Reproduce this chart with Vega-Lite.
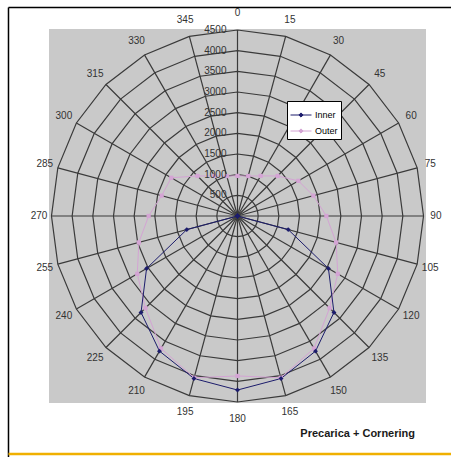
{
  "$schema": "https://vega.github.io/schema/vega-lite/v6.json",
  "width": 377,
  "height": 374,
  "autosize": {"type": "none"},
  "padding": {"left": 49, "top": 29, "right": 25, "bottom": 54},
  "background": "white",
  "config": {
    "view": {"fill": "#c9c9c9", "stroke": null},
    "font": "Liberation Sans"
  },
  "title": {
    "text": "Precarica + Cornering",
    "orient": "bottom",
    "anchor": "end",
    "frame": "group",
    "font": "Liberation Sans",
    "fontSize": 11,
    "fontWeight": "bold",
    "color": "#1a1a1a",
    "offset": -31,
    "dx": -11
  },
  "datasets": {
    "rings": [
      {"r": 500, "a": [0,15,30,45,60,75,90,105,120,135,150,165,180,195,210,225,240,255,270,285,300,315,330,345,360]},
      {"r": 1000, "a": [0,15,30,45,60,75,90,105,120,135,150,165,180,195,210,225,240,255,270,285,300,315,330,345,360]},
      {"r": 1500, "a": [0,15,30,45,60,75,90,105,120,135,150,165,180,195,210,225,240,255,270,285,300,315,330,345,360]},
      {"r": 2000, "a": [0,15,30,45,60,75,90,105,120,135,150,165,180,195,210,225,240,255,270,285,300,315,330,345,360]},
      {"r": 2500, "a": [0,15,30,45,60,75,90,105,120,135,150,165,180,195,210,225,240,255,270,285,300,315,330,345,360]},
      {"r": 3000, "a": [0,15,30,45,60,75,90,105,120,135,150,165,180,195,210,225,240,255,270,285,300,315,330,345,360]},
      {"r": 3500, "a": [0,15,30,45,60,75,90,105,120,135,150,165,180,195,210,225,240,255,270,285,300,315,330,345,360]},
      {"r": 4000, "a": [0,15,30,45,60,75,90,105,120,135,150,165,180,195,210,225,240,255,270,285,300,315,330,345,360]},
      {"r": 4500, "a": [0,15,30,45,60,75,90,105,120,135,150,165,180,195,210,225,240,255,270,285,300,315,330,345,360]}
    ],
    "spokes": [
      {"a": 0, "label": "0"}, {"a": 15, "label": "15"}, {"a": 30, "label": "30"}, {"a": 45, "label": "45"},
      {"a": 60, "label": "60"}, {"a": 75, "label": "75"}, {"a": 90, "label": "90"}, {"a": 105, "label": "105"},
      {"a": 120, "label": "120"}, {"a": 135, "label": "135"}, {"a": 150, "label": "150"}, {"a": 165, "label": "165"},
      {"a": 180, "label": "180"}, {"a": 195, "label": "195"}, {"a": 210, "label": "210"}, {"a": 225, "label": "225"},
      {"a": 240, "label": "240"}, {"a": 255, "label": "255"}, {"a": 270, "label": "270"}, {"a": 285, "label": "285"},
      {"a": 300, "label": "300"}, {"a": 315, "label": "315"}, {"a": 330, "label": "330"}, {"a": 345, "label": "345"}
    ],
    "ticks": [
      {"v": 500}, {"v": 1000}, {"v": 1500}, {"v": 2000}, {"v": 2500},
      {"v": 3000}, {"v": 3500}, {"v": 4000}, {"v": 4500}
    ],
    "series": [
      {"series": "Outer", "a": 0, "v": 970}, {"series": "Outer", "a": 15, "v": 1000}, {"series": "Outer", "a": 30, "v": 1120},
      {"series": "Outer", "a": 45, "v": 1370}, {"series": "Outer", "a": 60, "v": 1700}, {"series": "Outer", "a": 75, "v": 1900},
      {"series": "Outer", "a": 90, "v": 2150}, {"series": "Outer", "a": 105, "v": 2470}, {"series": "Outer", "a": 120, "v": 2800},
      {"series": "Outer", "a": 135, "v": 3150}, {"series": "Outer", "a": 150, "v": 3700}, {"series": "Outer", "a": 165, "v": 4050},
      {"series": "Outer", "a": 180, "v": 3870}, {"series": "Outer", "a": 195, "v": 4050}, {"series": "Outer", "a": 210, "v": 3700},
      {"series": "Outer", "a": 225, "v": 3150}, {"series": "Outer", "a": 240, "v": 2800}, {"series": "Outer", "a": 255, "v": 2470},
      {"series": "Outer", "a": 270, "v": 2150}, {"series": "Outer", "a": 285, "v": 1900}, {"series": "Outer", "a": 300, "v": 1850},
      {"series": "Outer", "a": 315, "v": 1370}, {"series": "Outer", "a": 330, "v": 1120}, {"series": "Outer", "a": 345, "v": 1000},
      {"series": "Outer", "a": 360, "v": 970},
      {"series": "Inner", "a": 0, "v": 0}, {"series": "Inner", "a": 15, "v": 0}, {"series": "Inner", "a": 30, "v": 0},
      {"series": "Inner", "a": 45, "v": 0}, {"series": "Inner", "a": 60, "v": 0}, {"series": "Inner", "a": 75, "v": 0},
      {"series": "Inner", "a": 90, "v": 0}, {"series": "Inner", "a": 105, "v": 1270}, {"series": "Inner", "a": 120, "v": 2540},
      {"series": "Inner", "a": 135, "v": 3300}, {"series": "Inner", "a": 150, "v": 3775}, {"series": "Inner", "a": 165, "v": 4070},
      {"series": "Inner", "a": 180, "v": 4210}, {"series": "Inner", "a": 195, "v": 4070}, {"series": "Inner", "a": 210, "v": 3775},
      {"series": "Inner", "a": 225, "v": 3300}, {"series": "Inner", "a": 240, "v": 2540}, {"series": "Inner", "a": 255, "v": 1270},
      {"series": "Inner", "a": 270, "v": 0}, {"series": "Inner", "a": 285, "v": 0}, {"series": "Inner", "a": 300, "v": 0},
      {"series": "Inner", "a": 315, "v": 0}, {"series": "Inner", "a": 330, "v": 0}, {"series": "Inner", "a": 345, "v": 0},
      {"series": "Inner", "a": 360, "v": 0}
    ]
  },
  "layer": [
    {
      "data": {"name": "rings"},
      "transform": [
        {"flatten": ["a"]},
        {"calculate": "datum.r * sin(datum.a * PI / 180)", "as": "gx"},
        {"calculate": "datum.r * cos(datum.a * PI / 180)", "as": "gy"}
      ],
      "mark": {"type": "line", "stroke": "#3a3a3a", "strokeWidth": 1.2},
      "encoding": {
        "x": {"field": "gx", "type": "quantitative", "scale": {"domain": [-4560, 4560], "nice": false, "zero": false}, "axis": null},
        "y": {"field": "gy", "type": "quantitative", "scale": {"domain": [-4524, 4524], "nice": false, "zero": false}, "axis": null},
        "detail": {"field": "r", "type": "nominal"},
        "order": {"field": "a", "type": "quantitative"}
      }
    },
    {
      "data": {"name": "spokes"},
      "transform": [
        {"calculate": "0", "as": "ox"},
        {"calculate": "4500 * sin(datum.a * PI / 180)", "as": "sx"},
        {"calculate": "4500 * cos(datum.a * PI / 180)", "as": "sy"}
      ],
      "mark": {"type": "rule", "stroke": "#3a3a3a", "strokeWidth": 1.2},
      "encoding": {
        "x": {"field": "ox", "type": "quantitative", "scale": {"domain": [-4560, 4560], "nice": false, "zero": false}, "axis": null},
        "y": {"field": "ox", "type": "quantitative", "scale": {"domain": [-4524, 4524], "nice": false, "zero": false}, "axis": null},
        "x2": {"field": "sx"},
        "y2": {"field": "sy"}
      }
    },
    {
      "data": {"name": "series"},
      "transform": [
        {"calculate": "datum.v * sin(datum.a * PI / 180)", "as": "px"},
        {"calculate": "datum.v * cos(datum.a * PI / 180)", "as": "py"}
      ],
      "mark": {"type": "line", "strokeWidth": 1},
      "encoding": {
        "x": {"field": "px", "type": "quantitative", "scale": {"domain": [-4560, 4560], "nice": false, "zero": false}, "axis": null},
        "y": {"field": "py", "type": "quantitative", "scale": {"domain": [-4524, 4524], "nice": false, "zero": false}, "axis": null},
        "order": {"field": "a", "type": "quantitative"},
        "color": {
          "field": "series",
          "type": "nominal",
          "scale": {"domain": ["Inner", "Outer"], "range": ["#1c1c6c", "#d4a4d4"]},
          "legend": {
            "title": null,
            "orient": "none",
            "legendX": 238,
            "legendY": 72,
            "direction": "vertical",
            "fillColor": "white",
            "strokeColor": "black",
            "padding": 3,
            "cornerRadius": 0,
            "symbolType": "M-1,0H1M0,-0.2L0.2,0L0,0.2L-0.2,0Z",
            "symbolSize": 441,
            "symbolStrokeWidth": 1,
            "labelFont": "Liberation Sans",
            "labelFontSize": 9,
            "labelColor": "black",
            "labelOffset": 3,
            "rowPadding": -4,
            "values": ["Inner", "Outer"],
            "encode": {
              "symbols": {
                "update": {
                  "stroke": {"scale": "color", "field": "value"},
                  "fill": {"scale": "color", "field": "value"},
                  "strokeWidth": {"value": 1}
                }
              }
            }
          }
        }
      }
    },
    {
      "data": {"name": "series"},
      "transform": [
        {"filter": "datum.a < 360 && datum.series == 'Outer'"},
        {"calculate": "datum.v * sin(datum.a * PI / 180)", "as": "px"},
        {"calculate": "datum.v * cos(datum.a * PI / 180)", "as": "py"}
      ],
      "mark": {"type": "point", "filled": true, "size": 18, "shape": "square", "color": "#d4a4d4", "opacity": 1},
      "encoding": {
        "x": {"field": "px", "type": "quantitative", "scale": {"domain": [-4560, 4560], "nice": false, "zero": false}, "axis": null},
        "y": {"field": "py", "type": "quantitative", "scale": {"domain": [-4524, 4524], "nice": false, "zero": false}, "axis": null}
      }
    },
    {
      "data": {"name": "series"},
      "transform": [
        {"filter": "datum.a < 360 && datum.series == 'Inner'"},
        {"calculate": "datum.v * sin(datum.a * PI / 180)", "as": "px"},
        {"calculate": "datum.v * cos(datum.a * PI / 180)", "as": "py"}
      ],
      "mark": {"type": "point", "filled": true, "size": 24, "shape": "diamond", "color": "#1c1c6c", "opacity": 1},
      "encoding": {
        "x": {"field": "px", "type": "quantitative", "scale": {"domain": [-4560, 4560], "nice": false, "zero": false}, "axis": null},
        "y": {"field": "py", "type": "quantitative", "scale": {"domain": [-4524, 4524], "nice": false, "zero": false}, "axis": null}
      }
    },
    {
      "data": {"name": "spokes"},
      "transform": [
        {"calculate": "(4800 + 100 * abs(cos(datum.a * PI / 180))) * sin(datum.a * PI / 180)", "as": "lx"},
        {"calculate": "(4800 + 100 * abs(cos(datum.a * PI / 180))) * cos(datum.a * PI / 180)", "as": "ly"}
      ],
      "mark": {"type": "text", "fontSize": 10, "color": "#333333", "align": "center", "baseline": "middle", "font": "Liberation Sans"},
      "encoding": {
        "x": {"field": "lx", "type": "quantitative", "scale": {"domain": [-4560, 4560], "nice": false, "zero": false}, "axis": null},
        "y": {"field": "ly", "type": "quantitative", "scale": {"domain": [-4524, 4524], "nice": false, "zero": false}, "axis": null},
        "text": {"field": "label"}
      }
    },
    {
      "data": {"name": "ticks"},
      "transform": [{"calculate": "0", "as": "ox"}],
      "mark": {"type": "text", "fontSize": 10, "color": "#333333", "align": "right", "baseline": "middle", "dx": -11, "font": "Liberation Sans"},
      "encoding": {
        "x": {"field": "ox", "type": "quantitative", "scale": {"domain": [-4560, 4560], "nice": false, "zero": false}, "axis": null},
        "y": {"field": "v", "type": "quantitative", "scale": {"domain": [-4524, 4524], "nice": false, "zero": false}, "axis": null},
        "text": {"field": "v", "type": "quantitative", "format": "d"}
      }
    },
    {
      "data": {"values": [{}]},
      "mark": {"type": "rule", "stroke": "black", "strokeWidth": 1.5},
      "encoding": {
        "x": {"datum": -5540, "type": "quantitative", "scale": {"domain": [-4560, 4560], "nice": false, "zero": false}, "axis": null},
        "y": {"datum": 5044, "type": "quantitative", "scale": {"domain": [-4524, 4524], "nice": false, "zero": false}, "axis": null},
        "y2": {"datum": -5850}
      }
    },
    {
      "data": {"values": [{}]},
      "mark": {"type": "rule", "stroke": "black", "strokeWidth": 1.5},
      "encoding": {
        "x": {"datum": -5540, "type": "quantitative", "scale": {"domain": [-4560, 4560], "nice": false, "zero": false}, "axis": null},
        "x2": {"datum": 5200},
        "y": {"datum": 5044, "type": "quantitative", "scale": {"domain": [-4524, 4524], "nice": false, "zero": false}, "axis": null}
      }
    },
    {
      "data": {"values": [{}]},
      "mark": {"type": "rule", "stroke": "#f0b000", "strokeWidth": 2.5},
      "encoding": {
        "x": {"datum": -5540, "type": "quantitative", "scale": {"domain": [-4560, 4560], "nice": false, "zero": false}, "axis": null},
        "x2": {"datum": 5200},
        "y": {"datum": -5758, "type": "quantitative", "scale": {"domain": [-4524, 4524], "nice": false, "zero": false}, "axis": null}
      }
    }
  ]
}
